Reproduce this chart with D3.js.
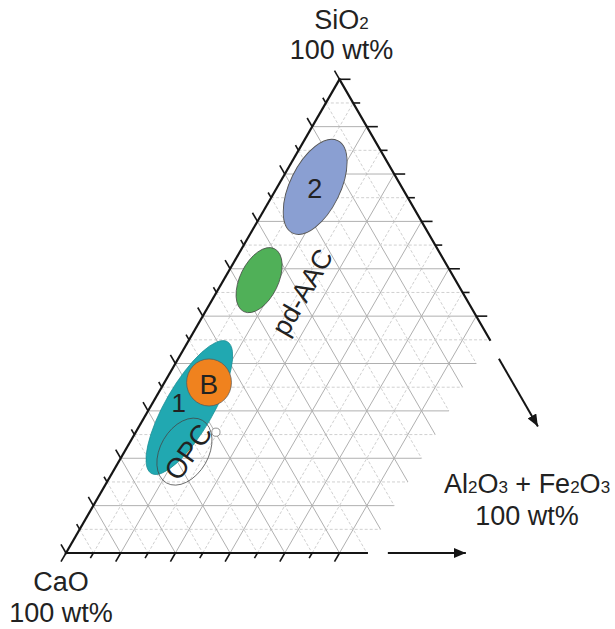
<!DOCTYPE html>
<html><head><meta charset="utf-8">
<script src="https://cdn.jsdelivr.net/npm/d3@7"></script>
<style>body{margin:0;background:#fff}svg{display:block}</style>
</head><body>
<svg id="chart" width="615" height="629"></svg>
<script>
// ---------- DATA (wt%) ----------
const gridStep = 5;          // grid spacing, wt%
const gridMaxAl = 55;        // diagram truncated at this Al2O3+Fe2O3 content
const tickValues = d3.range(0, 101, 5);

// compositional fields: centre (SiO2, Al2O3+Fe2O3), semi-axes (wt%), tilt (deg)
const fieldNames  = ["2", "pd-AAC", "1", "B", "OPC", "OPC point"];
const fieldSiO2   = [77.3, 57.6, 30.7, 36.0, 21.4, 25.5];
const fieldAl     = [6.9, 6.5, 7.2, 8.15, 10.95, 14.66];
const fieldMajor  = [9.4, 6.4, 13.9, 4.3, 6.6, 0.75];
const fieldMinor  = [4.6, 3.5, 4.4, 4.1, 4.4, 0.75];
const fieldTilt   = [26, 26, 30, 0, 30, 0];

// field labels
const labelText = ["2", "pd-AAC", "1", "B", "OPC"];
const labelSiO2 = [77.0, 55.1, 31.65, 35.65, 21.4];
const labelAl   = [7.0, 15.6, 4.8, 8.3, 11.6];

// ---------- LAYOUT ----------
const svg = d3.select("#chart");
const font = "'Liberation Sans', Arial, Helvetica, sans-serif";
const side = 547, ox = 66, oy = 553;
const s = d3.scaleLinear().domain([0, 100]).range([0, side]);          // along an edge
const yS = d3.scaleLinear().domain([0, 100]).range([oy, oy - side * Math.sqrt(3) / 2]);
const P = (si, al) => [ox + s(al) + s(si) / 2, yS(si)];

const colors = d3.scaleOrdinal(fieldNames,
  ["#8a9fd2", "#50b058", "#21a8b1", "#f0821e", "none", "#ffffff"]);
const strokes = d3.scaleOrdinal(fieldNames,
  ["#555", "#444", "#1c8f96", "#555", "#444", "#666"]);

// ---------- GRID ----------
const grid = [];
for (let v = gridStep; v < 100; v += gridStep) {
  grid.push({v, a: P(v, 0), b: P(v, Math.min(gridMaxAl, 100 - v))});
  if (v < gridMaxAl) grid.push({v, a: P(0, v), b: P(100 - v, v)});
  const alEnd = Math.min(gridMaxAl, 100 - v);
  grid.push({v, a: P(100 - v, 0), b: P(100 - v - alEnd, alEnd)});
}
svg.append("g").selectAll("line").data(grid).join("line")
  .attr("x1", d => d.a[0]).attr("y1", d => d.a[1])
  .attr("x2", d => d.b[0]).attr("y2", d => d.b[1])
  .attr("stroke", d => d.v % 10 === 0 ? "#b0b0b0" : "#d0d0d0")
  .attr("stroke-width", 1)
  .attr("stroke-dasharray", d => d.v % 10 === 0 ? null : "3,2");

// ---------- FIELDS ----------
const fields = fieldNames.map((n, i) => ({n, si: fieldSiO2[i], al: fieldAl[i],
  a: fieldMajor[i], b: fieldMinor[i], t: fieldTilt[i]}));
svg.append("g").selectAll("ellipse").data(fields).join("ellipse")
  .attr("transform", d => { const p = P(d.si, d.al); return `translate(${p[0]},${p[1]}) rotate(${d.t})`; })
  .attr("rx", d => s(d.b)).attr("ry", d => s(d.a))
  .attr("fill", d => colors(d.n))
  .attr("stroke", d => strokes(d.n))
  .attr("stroke-width", d => d.n === "2" ? 0.9 : 0.7);

// ---------- EDGES & TICKS ----------
const edges = [[P(0, 0), P(100, 0)], [P(100, 0), P(100 - gridMaxAl, gridMaxAl)], [P(0, 0), P(0, gridMaxAl)]];
svg.append("g").selectAll("line").data(edges).join("line")
  .attr("x1", d => d[0][0]).attr("y1", d => d[0][1])
  .attr("x2", d => d[1][0]).attr("y2", d => d[1][1])
  .attr("stroke", "#151515").attr("stroke-width", 2.2).attr("stroke-linecap", "square");

const ticks = [];
const c60 = 0.5, s60 = Math.sqrt(3) / 2;
tickValues.forEach(v => {
  const len = v % 10 === 0 ? 10 : 6;
  ticks.push({p: P(v, 0), dx: -c60 * len, dy: -s60 * len});
  if (v >= 100 - gridMaxAl + 5) ticks.push({p: P(v, 100 - v), dx: len + 1, dy: 0});
  if (v <= 50) ticks.push({p: P(0, v), dx: -c60 * len, dy: s60 * len});
});
svg.append("g").selectAll("line").data(ticks).join("line")
  .attr("x1", d => d.p[0]).attr("y1", d => d.p[1])
  .attr("x2", d => d.p[0] + d.dx).attr("y2", d => d.p[1] + d.dy)
  .attr("stroke", "#151515").attr("stroke-width", 1.6);

// ---------- ARROWS ----------
const defs = svg.append("defs");
defs.append("marker").attr("id", "ah").attr("viewBox", "0 0 12 10")
  .attr("refX", 12).attr("refY", 5).attr("markerWidth", 12).attr("markerHeight", 10)
  .attr("markerUnits", "userSpaceOnUse").attr("orient", "auto")
  .append("path").attr("d", "M0,0L12,5L0,10Z").attr("fill", "#151515");
const bEnd = P(0, gridMaxAl), rEnd = P(100 - gridMaxAl, gridMaxAl);
const arrows = [
  [[bEnd[0] + 21, bEnd[1]], [bEnd[0] + 99, bEnd[1]]],
  [[rEnd[0] + 9, rEnd[1] + 19], [rEnd[0] + 9 + 78 * c60, rEnd[1] + 19 + 78 * s60]]
];
svg.append("g").selectAll("line").data(arrows).join("line")
  .attr("x1", d => d[0][0]).attr("y1", d => d[0][1])
  .attr("x2", d => d[1][0]).attr("y2", d => d[1][1])
  .attr("stroke", "#151515").attr("stroke-width", 2).attr("marker-end", "url(#ah)");

// ---------- FIELD LABELS ----------
const labelSize = {"2": 27, "pd-AAC": 27, "1": 26, "B": 28, "OPC": 28};
const labelRot = {"2": 0, "pd-AAC": -60, "1": 0, "B": 0, "OPC": -55};
svg.append("g").selectAll("text").data(labelText.map((t, i) => ({t, si: labelSiO2[i], al: labelAl[i]})))
  .join("text")
  .attr("transform", d => { const p = P(d.si, d.al); return `translate(${p[0]},${p[1]}) rotate(${labelRot[d.t]})`; })
  .attr("text-anchor", "middle").attr("dy", "0.36em")
  .attr("font-family", font).attr("font-size", d => labelSize[d.t]).attr("fill", "#222")
  .text(d => d.t);

// ---------- AXIS TITLES ----------
function title(x, y, parts) {
  const t = svg.append("text").attr("x", x).attr("y", y).attr("text-anchor", "middle")
    .attr("font-family", font).attr("font-size", 27).attr("fill", "#222");
  parts.forEach(([str, sub]) => {
    const ts = t.append("tspan").text(str);
    if (sub) ts.attr("font-size", 17);
  });
}
const apex = P(100, 0), origin = P(0, 0);
title(apex[0] + 2, 29, [["SiO"], ["2", true]]);
title(apex[0] + 2, 59, [["100 wt%"]]);
title(origin[0] - 5, 591, [["CaO"]]);
title(origin[0] - 5, 622, [["100 wt%"]]);
title(527, 493, [["Al"], ["2", true], ["O"], ["3", true], [" + Fe"], ["2", true], ["O"], ["3", true]]);
title(527, 525, [["100 wt%"]]);
</script>
</body></html>
